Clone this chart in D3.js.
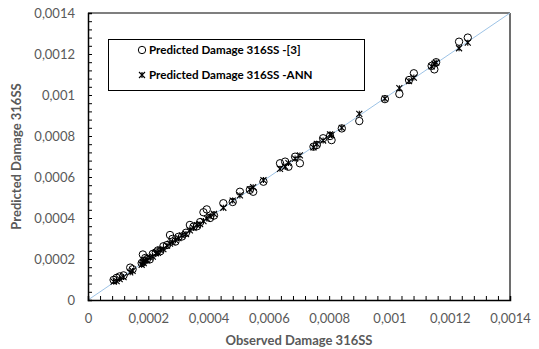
<!DOCTYPE html>
<html>
<head>
<meta charset="utf-8">
<script src="https://cdn.jsdelivr.net/npm/d3@7/dist/d3.min.js"></script>
<style>
  html, body { margin: 0; padding: 0; background: #fff; }
  svg { display: block; font-family: Lato, "Open Sans", sans-serif; }
</style>
</head>
<body>
<svg id="chart" width="539" height="349"></svg>
<script>
// Observed damage values (x) and the two sets of predictions (y)
const observed = [
  0.000085, 0.000095, 0.000105, 0.000118, 0.000140, 0.000148,
  0.000178, 0.000182, 0.000185, 0.000190, 0.000196, 0.000205, 0.000215,
  0.000225, 0.000232, 0.000240, 0.000250, 0.000262, 0.000272, 0.000280, 0.000290,
  0.000300, 0.000312, 0.000325, 0.000338, 0.000350, 0.000362, 0.000372, 0.000383,
  0.000394, 0.000405, 0.000418,
  0.000449, 0.000480, 0.000504, 0.000537, 0.000548, 0.000582,
  0.000637, 0.000654, 0.000665, 0.000687, 0.000703,
  0.000748, 0.000759, 0.000780, 0.000803, 0.000808, 0.000842,
  0.000900, 0.000985, 0.001033, 0.001065, 0.001081,
  0.001140, 0.001149, 0.001155, 0.001231, 0.001260
];
const predictedRef = [
  0.000098, 0.000108, 0.000115, 0.000120, 0.000158, 0.000150,
  0.000180, 0.000222, 0.000190, 0.000205, 0.000200, 0.000198, 0.000225,
  0.000232, 0.000242, 0.000238, 0.000262, 0.000268, 0.000317, 0.000298, 0.000285,
  0.000308, 0.000310, 0.000328, 0.000366, 0.000358, 0.000360, 0.000380, 0.000428,
  0.000442, 0.000400, 0.000412,
  0.000472, 0.000478, 0.000528, 0.000537, 0.000528, 0.000577,
  0.000667, 0.000675, 0.000650, 0.000699, 0.000667,
  0.000748, 0.000756, 0.000789, 0.000800, 0.000780, 0.000837,
  0.000873, 0.000980, 0.001005, 0.001073, 0.001106,
  0.001142, 0.001125, 0.001160, 0.001260, 0.001280
];
const predictedAnn = [
  0.000090, 0.000092, 0.000102, 0.000112, 0.000135, 0.000142,
  0.000172, 0.000185, 0.000180, 0.000192, 0.000195, 0.000208, 0.000212,
  0.000228, 0.000230, 0.000245, 0.000248, 0.000265, 0.000275, 0.000282, 0.000292,
  0.000302, 0.000315, 0.000322, 0.000340, 0.000352, 0.000365, 0.000370, 0.000385,
  0.000398, 0.000408, 0.000420,
  0.000450, 0.000485, 0.000510, 0.000540, 0.000550, 0.000585,
  0.000640, 0.000650, 0.000668, 0.000690, 0.000705,
  0.000745, 0.000762, 0.000778, 0.000808, 0.000805, 0.000840,
  0.000908, 0.000982, 0.001033, 0.001068, 0.001085,
  0.001140, 0.001152, 0.001158, 0.001228, 0.001255
];
const tickValues = [0, 0.0002, 0.0004, 0.0006, 0.0008, 0.001, 0.0012, 0.0014];
const tickLabels = ["0", "0,0002", "0,0004", "0,0006", "0,0008", "0,001", "0,0012", "0,0014"];
const seriesNames = ["Predicted Damage 316SS -[3]", "Predicted Damage 316SS -ANN"];

const svg = d3.select("#chart");
const plot = { left: 88, right: 510, top: 13, bottom: 300 };

const x = d3.scaleLinear().domain([0, 0.0014]).range([plot.left, plot.right]);
const y = d3.scaleLinear().domain([0, 0.0014]).range([plot.bottom, plot.top]);

const minorTicks = d3.range(0, 0.0014 + 1e-9, 0.00004);
const labelFor = v => tickLabels[tickValues.findIndex(t => Math.abs(t - v) < 1e-9)];

// Plot frame: top and right edges
svg.append("line")
  .attr("x1", plot.left).attr("x2", plot.right)
  .attr("y1", plot.top).attr("y2", plot.top)
  .attr("stroke", "#000").attr("stroke-width", 1.2);
svg.append("line")
  .attr("x1", plot.right).attr("x2", plot.right)
  .attr("y1", plot.top).attr("y2", plot.bottom)
  .attr("stroke", "#6e6e6e").attr("stroke-width", 2);

// 1:1 reference line
svg.append("line")
  .attr("x1", x(0)).attr("y1", y(0))
  .attr("x2", x(0.0014)).attr("y2", y(0.0014))
  .attr("stroke", "#9dc3e6").attr("stroke-width", 1);

// X axis: inside ticks, labels below
const xAxis = svg.append("g").attr("transform", `translate(0,${plot.bottom})`)
  .call(d3.axisBottom(x).tickValues(minorTicks).tickSize(-4).tickFormat(""));
xAxis.select(".domain").attr("stroke", "#000").attr("stroke-width", 1.5);
xAxis.selectAll(".tick line").attr("stroke", "#000").attr("stroke-width", 1);
const xLabels = svg.append("g").attr("transform", `translate(0,${plot.bottom})`)
  .call(d3.axisBottom(x).tickValues(tickValues).tickSize(0).tickPadding(14).tickFormat(labelFor));
xLabels.select(".domain").remove();
xLabels.selectAll("text")
  .attr("fill", "#595959").style("font-size", "13px").style("font-family", "Lato, sans-serif");

// Y axis: inside ticks, labels to the left
const yAxis = svg.append("g").attr("transform", `translate(${plot.left},0)`)
  .call(d3.axisLeft(y).tickValues(minorTicks).tickSize(-4).tickFormat(""));
yAxis.select(".domain").attr("stroke", "#000").attr("stroke-width", 1.5);
yAxis.selectAll(".tick line").attr("stroke", "#000").attr("stroke-width", 1);
const yLabels = svg.append("g").attr("transform", `translate(${plot.left},0)`)
  .call(d3.axisLeft(y).tickValues(tickValues).tickSize(0).tickPadding(13).tickFormat(labelFor));
yLabels.select(".domain").remove();
yLabels.selectAll("text")
  .attr("fill", "#595959").style("font-size", "13px").style("font-family", "Lato, sans-serif");

// Axis titles
svg.append("text")
  .attr("x", (plot.left + plot.right) / 2).attr("y", 345)
  .attr("text-anchor", "middle").attr("fill", "#595959")
  .style("font-size", "13px").style("font-weight", 700)
  .text("Observed Damage 316SS");
svg.append("text")
  .attr("transform", `translate(21,${(plot.top + plot.bottom) / 2}) rotate(-90)`)
  .attr("text-anchor", "middle").attr("fill", "#595959")
  .style("font-size", "13px").style("font-weight", 700)
  .text("Predicted Damage 316SS");

// Marker shapes
const starPath = s => `M${-s},${-s}L${s},${s}M${-s},${s}L${s},${-s}M0,${-s}L0,${s}`;

const pts = observed.map((o, i) => ({ o, ref: predictedRef[i], ann: predictedAnn[i] }));

// Series [3]: open circles
svg.append("g").selectAll("circle").data(pts).join("circle")
  .attr("cx", d => x(d.o)).attr("cy", d => y(d.ref)).attr("r", 3.7)
  .attr("fill", "none").attr("stroke", "#000").attr("stroke-width", 1);

// Series ANN: star markers
svg.append("g").selectAll("path").data(pts).join("path")
  .attr("transform", d => `translate(${x(d.o)},${y(d.ann)})`)
  .attr("d", starPath(3))
  .attr("fill", "none").attr("stroke", "#000").attr("stroke-width", 1.1);

// Legend
const legend = svg.append("g");
legend.append("rect")
  .attr("x", 108.5).attr("y", 39.5).attr("width", 256).attr("height", 51)
  .attr("fill", "#fff").attr("stroke", "#000").attr("stroke-width", 1);
legend.append("circle").attr("cx", 142).attr("cy", 50).attr("r", 3.7)
  .attr("fill", "none").attr("stroke", "#000").attr("stroke-width", 1);
legend.append("path").attr("transform", "translate(142,75)").attr("d", starPath(3))
  .attr("fill", "none").attr("stroke", "#000").attr("stroke-width", 1.1);
legend.selectAll("text.lbl").data(seriesNames).join("text")
  .attr("class", "lbl")
  .attr("x", 149).attr("y", (d, i) => 54 + i * 25)
  .attr("fill", "#000").style("font-size", "11.6px").style("font-weight", 700)
  .text(d => d);
</script>
</body>
</html>
